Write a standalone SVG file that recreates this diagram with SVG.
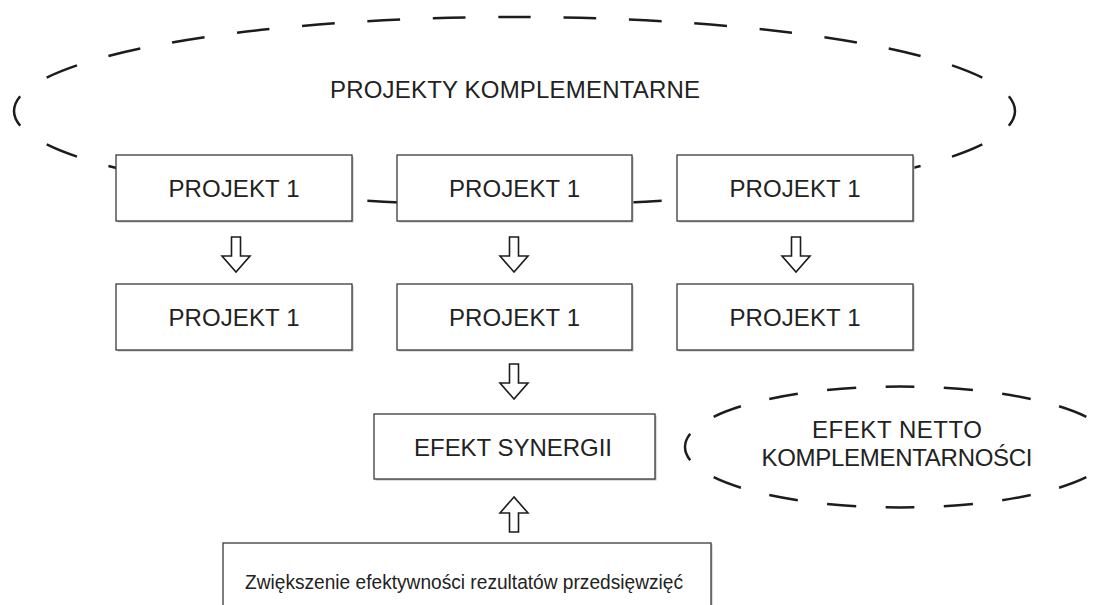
<svg xmlns="http://www.w3.org/2000/svg" xmlns:xlink="http://www.w3.org/1999/xlink" width="1107" height="605" viewBox="0 0 1107 605">
  <style>
    .bg { fill: #ffffff; }
    .dash { fill: none; stroke: #1c1c1c; stroke-width: 2.5; stroke-linecap: butt; }
    .box { fill: #ffffff; stroke: #3a3a3a; stroke-width: 1.3; }
    .shadow { fill: #bdbdbd; }
    .lbl { font-family: "Liberation Sans", Arial, sans-serif; font-size: 24px; fill: #222222; text-anchor: middle; }
    .small { font-size: 20.5px; }
    .arrow { fill: #ffffff; stroke: #1c1c1c; stroke-width: 1.6; stroke-linejoin: miter; }
  </style>
  <defs>
    <path id="arrowDown" d="M -4.5 0 L 4.5 0 L 4.5 19 L 14 19 L 0 35 L -14 19 L -4.5 19 Z"/>
    <path id="arrowUp" d="M -4.5 35 L 4.5 35 L 4.5 16 L 14 16 L 0 0 L -14 16 L -4.5 16 Z"/>
  </defs>
  <rect class="bg" x="0" y="0" width="1107" height="605"/>

  <g id="projekty-komplementarne">
    <path class="dash" pathLength="2048" stroke-dasharray="32 32" stroke-dashoffset="16"
          d="M 1015 111 A 500.5 94 0 1 1 14 111 A 500.5 94 0 1 1 1015 111 Z"/>
    <text class="lbl" x="515" y="98" textLength="370" lengthAdjust="spacing">PROJEKTY KOMPLEMENTARNE</text>
  </g>

  <g id="projekt-1a">
    <rect class="shadow" x="117.5" y="156.5" width="236" height="66"/>
    <rect class="box" x="116" y="155" width="236" height="66"/>
    <text class="lbl" x="234" y="197" textLength="131" lengthAdjust="spacing">PROJEKT 1</text>
  </g>
  <g id="projekt-1b">
    <rect class="shadow" x="398.5" y="156.5" width="235" height="66"/>
    <rect class="box" x="397" y="155" width="235" height="66"/>
    <text class="lbl" x="514.5" y="197" textLength="131" lengthAdjust="spacing">PROJEKT 1</text>
  </g>
  <g id="projekt-1c">
    <rect class="shadow" x="678.5" y="156.5" width="236" height="66"/>
    <rect class="box" x="677" y="155" width="236" height="66"/>
    <text class="lbl" x="795" y="197" textLength="131" lengthAdjust="spacing">PROJEKT 1</text>
  </g>

  <g id="projekt-2a">
    <rect class="shadow" x="117.5" y="285.5" width="236" height="66"/>
    <rect class="box" x="116" y="284" width="236" height="66"/>
    <text class="lbl" x="234" y="326" textLength="131" lengthAdjust="spacing">PROJEKT 1</text>
  </g>
  <g id="projekt-2b">
    <rect class="shadow" x="398.5" y="285.5" width="235" height="66"/>
    <rect class="box" x="397" y="284" width="235" height="66"/>
    <text class="lbl" x="514.5" y="326" textLength="131" lengthAdjust="spacing">PROJEKT 1</text>
  </g>
  <g id="projekt-2c">
    <rect class="shadow" x="678.5" y="285.5" width="236" height="66"/>
    <rect class="box" x="677" y="284" width="236" height="66"/>
    <text class="lbl" x="795" y="326" textLength="131" lengthAdjust="spacing">PROJEKT 1</text>
  </g>

  <g id="efekt-synergii">
    <rect class="shadow" x="375.5" y="415.5" width="281" height="65"/>
    <rect class="box" x="374" y="414" width="281" height="65"/>
    <text class="lbl" x="513" y="456" textLength="198" lengthAdjust="spacing">EFEKT SYNERGII</text>
  </g>

  <g id="efekt-netto">
    <path class="dash" pathLength="1024" stroke-dasharray="32 32" stroke-dashoffset="16"
          d="M 1115 447 A 215 60.5 0 1 1 685 447 A 215 60.5 0 1 1 1115 447 Z"/>
    <text class="lbl" x="897" y="438" textLength="170" lengthAdjust="spacing">EFEKT NETTO</text>
    <text class="lbl" x="897" y="466" textLength="271" lengthAdjust="spacing">KOMPLEMENTARNOŚCI</text>
  </g>

  <g id="zwiekszenie">
    <rect class="shadow" x="224.5" y="544.5" width="488" height="80"/>
    <rect class="box" x="223" y="543" width="488" height="80"/>
    <text class="lbl small" x="464" y="589" textLength="438" lengthAdjust="spacingAndGlyphs">Zwiększenie efektywności rezultatów przedsięwzięć</text>
  </g>

  <g id="connectors">
    <use xlink:href="#arrowDown" class="arrow" x="236" y="237"/>
    <use xlink:href="#arrowDown" class="arrow" x="514" y="237"/>
    <use xlink:href="#arrowDown" class="arrow" x="796" y="237"/>
    <use xlink:href="#arrowDown" class="arrow" x="514" y="364"/>
    <use xlink:href="#arrowUp" class="arrow" x="514" y="497"/>
  </g>
</svg>
